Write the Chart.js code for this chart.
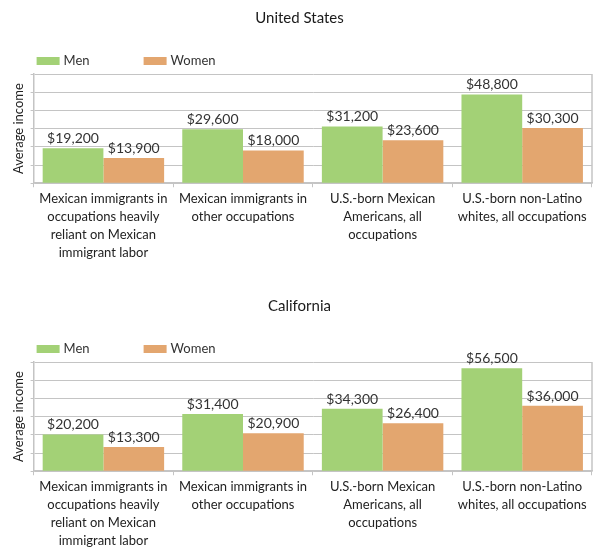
<!DOCTYPE html>
<html>
<head>
<meta charset="utf-8">
<script src="https://cdn.jsdelivr.net/npm/chart.js@4.4.0/dist/chart.umd.min.js"></script>
<style>
  body { margin: 0; background: #fff; overflow: hidden; }
  .box { width: 597px; height: 288px; }
</style>
</head>
<body>
<div class="box"><canvas id="usChart" width="597" height="288"></canvas></div>
<div class="box"><canvas id="caChart" width="597" height="288"></canvas></div>
<script>
const categories = [
    ['Mexican immigrants in', 'occupations heavily', 'reliant on Mexican', 'immigrant labor'],
    ['Mexican immigrants in', 'other occupations'],
    ['U.S.-born Mexican', 'Americans, all', 'occupations'],
    ['U.S.-born non-Latino', 'whites, all occupations']
];
const seriesNames = ['Men', 'Women'];
const usMen = [19200, 29600, 31200, 48800];
const usWomen = [13900, 18000, 23600, 30300];
const caMen = [20200, 31400, 34300, 56500];
const caWomen = [13300, 20900, 26400, 36000];

const green = 'rgb(163, 209, 118)';
const orange = 'rgb(227, 166, 111)';
const lineColor = '#c4c4c4';
const fontName = 'Lato';

Chart.defaults.font.family = fontName;
Chart.defaults.color = '#333';

function money(v){
    return '$' + String(v).replace(/\B(?=(\d{3})+(?!\d))/g, ',');
}

// value labels, right border and the little legend
const extras = {
    id: 'extras',
    beforeDatasetsDraw(chart){
        const ctx = chart.ctx;
        const area = chart.chartArea;
        ctx.save();
        ctx.strokeStyle = lineColor;
        ctx.lineWidth = 1.5;
        ctx.beginPath();
        ctx.moveTo(area.right, area.top);
        ctx.lineTo(area.right, area.bottom);
        ctx.stroke();
        ctx.restore();
    },
    afterDatasetsDraw(chart){
        const ctx = chart.ctx;
        const area = chart.chartArea;
        ctx.save();
        ctx.font = '14px ' + fontName;
        ctx.fillStyle = '#333';
        ctx.textAlign = 'center';
        ctx.textBaseline = 'alphabetic';
        chart.data.datasets.forEach(function(ds, i){
            chart.getDatasetMeta(i).data.forEach(function(bar, j){
                ctx.fillText(money(ds.data[j]), bar.x, bar.y - 5);
            });
        });
        ctx.font = '13px ' + fontName;
        ctx.textAlign = 'left';
        ctx.textBaseline = 'middle';
        const legendX = [area.left + 3, area.left + 110];
        const legendY = area.top - 13;
        chart.data.datasets.forEach(function(ds, i){
            ctx.fillStyle = ds.backgroundColor;
            ctx.fillRect(legendX[i], legendY - 4, 23, 8);
            ctx.fillStyle = '#333';
            ctx.fillText(ds.label, legendX[i] + 27, legendY);
        });
        ctx.restore();
    }
};

function makeChart(id, title, men, women){
    return new Chart(document.getElementById(id), {
        type: 'bar',
        data: {
            labels: categories,
            datasets: [
                { label: seriesNames[0], data: men, backgroundColor: green },
                { label: seriesNames[1], data: women, backgroundColor: orange }
            ]
        },
        options: {
            responsive: false,
            animation: false,
            layout: { padding: { left: 7, right: 5, top: 0, bottom: 23 } },
            datasets: { bar: { categoryPercentage: 0.87, barPercentage: 1 } },
            plugins: {
                legend: { display: false },
                tooltip: { enabled: false },
                title: {
                    display: true,
                    text: title,
                    color: '#1a1a1a',
                    font: { size: 15, weight: 'normal' },
                    padding: { top: 9, bottom: 47 }
                }
            },
            scales: {
                x: {
                    grid: { drawOnChartArea: false, drawTicks: true, tickLength: 4, color: lineColor },
                    border: { color: lineColor, width: 1.5 },
                    ticks: {
                        color: '#222',
                        maxRotation: 0,
                        autoSkip: false,
                        padding: 3,
                        font: { size: 13, lineHeight: 1.38 }
                    }
                },
                y: {
                    min: 0,
                    max: 60000,
                    ticks: { display: false, stepSize: 10000 },
                    grid: { color: lineColor, tickLength: 3 },
                    border: { color: lineColor, width: 1.5 },
                    title: {
                        display: true,
                        text: 'Average income',
                        color: '#222',
                        font: { size: 13 },
                        padding: { top: 4, bottom: 4 }
                    }
                }
            }
        },
        plugins: [extras]
    });
}

const usChart = makeChart('usChart', 'United States', usMen, usWomen);
const caChart = makeChart('caChart', 'California', caMen, caWomen);
</script>
</body>
</html>
